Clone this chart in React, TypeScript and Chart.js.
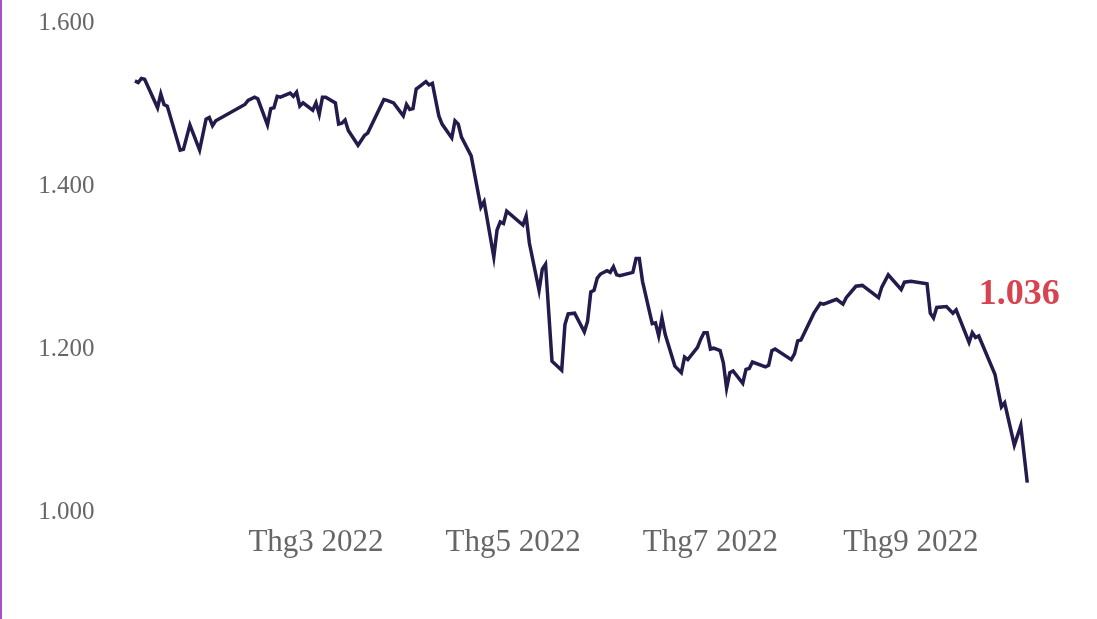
import React, { useEffect, useRef } from "react";
import { Chart, registerables } from "chart.js";

Chart.register(...registerables);

const dates: string[] = [
  "2022-01-04","2022-01-05","2022-01-06","2022-01-07","2022-01-11","2022-01-12","2022-01-13","2022-01-14",
  "2022-01-18","2022-01-19","2022-01-21","2022-01-24","2022-01-26","2022-01-27","2022-01-28","2022-01-29",
  "2022-02-07","2022-02-08","2022-02-10","2022-02-11","2022-02-14","2022-02-15","2022-02-16","2022-02-17",
  "2022-02-18","2022-02-21","2022-02-22","2022-02-23","2022-02-24","2022-02-25","2022-02-28",
  "2022-03-01","2022-03-02","2022-03-03","2022-03-04","2022-03-07","2022-03-08","2022-03-09","2022-03-10",
  "2022-03-11","2022-03-14","2022-03-16","2022-03-17","2022-03-22","2022-03-23","2022-03-25","2022-03-28",
  "2022-03-29","2022-03-30","2022-03-31",
  "2022-04-01","2022-04-02","2022-04-04","2022-04-05","2022-04-06","2022-04-08","2022-04-09","2022-04-12",
  "2022-04-13","2022-04-14","2022-04-15","2022-04-18","2022-04-21","2022-04-22","2022-04-25","2022-04-26",
  "2022-04-27","2022-04-28","2022-04-29",
  "2022-05-04","2022-05-05","2022-05-06","2022-05-09","2022-05-10","2022-05-11","2022-05-13","2022-05-16",
  "2022-05-17","2022-05-18","2022-05-20","2022-05-23","2022-05-24","2022-05-25","2022-05-26","2022-05-27",
  "2022-05-28","2022-05-30","2022-05-31",
  "2022-06-01","2022-06-02","2022-06-03","2022-06-07","2022-06-08","2022-06-09","2022-06-10","2022-06-13",
  "2022-06-14","2022-06-15","2022-06-16","2022-06-17","2022-06-20","2022-06-22","2022-06-23","2022-06-24",
  "2022-06-27","2022-06-28","2022-06-29","2022-06-30",
  "2022-07-01","2022-07-02","2022-07-04","2022-07-05","2022-07-06","2022-07-07","2022-07-08","2022-07-11",
  "2022-07-12","2022-07-13","2022-07-14","2022-07-18","2022-07-19","2022-07-20","2022-07-21","2022-07-26",
  "2022-07-27","2022-07-28","2022-07-29",
  "2022-08-02","2022-08-04","2022-08-05","2022-08-09","2022-08-11","2022-08-12","2022-08-15","2022-08-17",
  "2022-08-22","2022-08-23","2022-08-25","2022-08-29","2022-08-30",
  "2022-09-01","2022-09-06","2022-09-07","2022-09-08","2022-09-09","2022-09-12","2022-09-14","2022-09-15",
  "2022-09-19","2022-09-20","2022-09-21","2022-09-22","2022-09-27","2022-09-29","2022-09-30",
  "2022-10-03","2022-10-05","2022-10-07",
];

const values: number[] = [
  1529,1527,1532,1531,1496,1513,1500,1498,
  1444,1445,1475,1444,1482,1484,1474,1480,
  1500,1505,1509,1507,1475,1495,1496,1510,
  1509,1514,1510,1515,1498,1502,1493,
  1502,1488,1509,1509,1502,1476,1477,1481,
  1468,1450,1462,1465,1506,1505,1502,1486,
  1500,1494,1495,
  1519,1522,1528,1524,1526,1486,1476,1459,
  1480,1476,1460,1437,1374,1381,1313,1346,
  1356,1354,1369,
  1352,1363,1330,1272,1298,1304,1185,1174,
  1230,1243,1244,1221,1234,1270,1272,1287,
  1292,1296,1294,
  1301,1291,1290,1294,1311,1311,1283,1231,
  1232,1216,1238,1218,1179,1171,1190,1187,
  1202,1212,1220,1220,
  1200,1201,1198,1183,1152,1171,1173,1158,
  1175,1176,1184,1178,1180,1198,1200,1187,
  1194,1210,1211,
  1244,1256,1255,1261,1255,1263,1277,1278,
  1263,1276,1291,1273,1282,
  1283,1280,1244,1238,1251,1252,1244,1248,
  1208,1220,1214,1216,1169,1129,1134,
  1082,1106,1036,
];

const tickDates: string[] = ["2022-03-01", "2022-05-01", "2022-07-01", "2022-09-01"];
const tickLabels: string[] = ["Thg3 2022", "Thg5 2022", "Thg7 2022", "Thg9 2022"];
const yTicks: number[] = [1000, 1200, 1400, 1600];
const axisRange = { xMin: "2021-12-25", xMax: "2022-10-23", yMin: 1000, yMax: 1600 };

const BASE = Date.UTC(2022, 0, 1);
function dayOf(s: string): number {
  const [y, m, d] = s.split("-").map(Number);
  return (Date.UTC(y, m - 1, d) - BASE) / 86400000;
}
function fmt(v: number): string {
  return String(Math.round(v)).replace(/\B(?=(\d{3})+(?!\d))/g, ".");
}

export default function App() {
  const ref = useRef<HTMLCanvasElement | null>(null);

  useEffect(() => {
    if (!ref.current) return;
    const points = dates.map((d, i) => ({ x: dayOf(d), y: values[i] }));
    const tickDays = tickDates.map(dayOf);
    const lastLabel = {
      id: "lastLabel",
      afterDatasetsDraw(chart: any) {
        const { ctx, scales } = chart;
        const lx = scales.x.getPixelForValue(points[points.length - 1].x);
        ctx.save();
        ctx.font = 'bold 36px "Liberation Serif", "Times New Roman", serif';
        ctx.fillStyle = "#d7434f";
        ctx.textAlign = "center";
        ctx.textBaseline = "middle";
        ctx.fillText(fmt(values[values.length - 1]), lx - 8, chart.chartArea.top + 272);
        ctx.restore();
      },
    };
    const chart = new Chart(ref.current, {
      type: "line",
      data: {
        datasets: [
          {
            data: points,
            borderColor: "#241a4c",
            borderWidth: 3.5,
            pointRadius: 0,
            tension: 0,
            fill: false,
          },
        ],
      },
      options: {
        animation: false,
        responsive: false,
        parsing: true,
        layout: { padding: { top: 20, right: 18, bottom: 0, left: 0 } },
        plugins: { legend: { display: false }, tooltip: { enabled: false } },
        scales: {
          x: {
            type: "linear",
            min: dayOf(axisRange.xMin),
            max: dayOf(axisRange.xMax),
            grid: { display: false, drawTicks: false },
            border: { display: false },
            afterBuildTicks: (axis: any) => {
              axis.ticks = tickDays.map((v) => ({ value: v }));
            },
            afterFit: (s: any) => {
              s.height = 107;
            },
            ticks: {
              autoSkip: false,
              maxRotation: 0,
              padding: 12,
              color: "#666666",
              font: { family: '"Liberation Serif", "Times New Roman", serif', size: 31 },
              callback: (v: any) => {
                const i = tickDays.indexOf(Number(v));
                return i >= 0 ? tickLabels[i] : "";
              },
            },
          },
          y: {
            min: axisRange.yMin,
            max: axisRange.yMax,
            grid: { display: false, drawTicks: false },
            border: { display: false },
            afterBuildTicks: (axis: any) => {
              axis.ticks = yTicks.map((v) => ({ value: v }));
            },
            afterFit: (s: any) => {
              s.width = 100.6;
            },
            ticks: {
              padding: 8,
              color: "#666666",
              font: { family: '"Liberation Serif", "Times New Roman", serif', size: 25 },
              callback: (v: any) => fmt(Number(v)),
            },
          },
        },
      },
      plugins: [lastLabel],
    });
    return () => chart.destroy();
  }, []);

  return (
    <div
      style={{
        position: "fixed",
        left: 0,
        top: 0,
        width: 1097,
        height: 619,
        boxSizing: "border-box",
        borderLeft: "2px solid #a650c8",
        background: "#ffffff",
      }}
    >
      <canvas ref={ref} width={1095} height={619} style={{ display: "block" }} />
    </div>
  );
}
